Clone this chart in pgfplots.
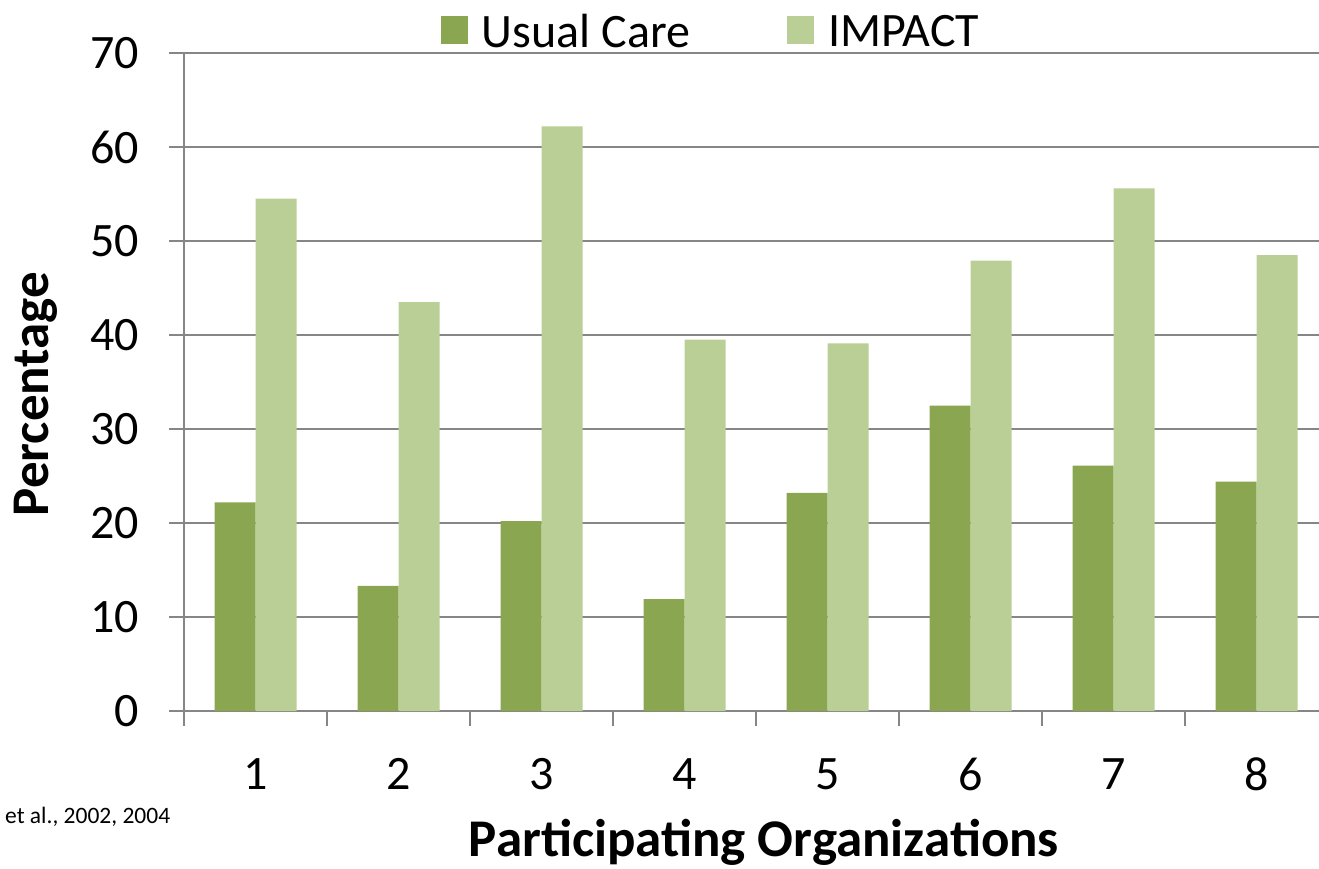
\documentclass[border=0pt]{standalone}
\usepackage{fontspec}
\setmainfont{Carlito}
\usepackage{pgfplots}
\pgfplotsset{compat=1.18}
\definecolor{uc}{RGB}{138,166,80}
\definecolor{im}{RGB}{186,207,149}
\definecolor{gridc}{RGB}{134,134,134}

\pgfplotstableread{
org usual impact
1 22.2 54.5
2 13.3 43.5
3 20.2 62.2
4 11.9 39.5
5 23.2 39.1
6 32.5 47.9
7 26.1 55.6
8 24.4 48.5
}\datatable

\begin{document}
\begin{tikzpicture}[x=1pt,y=1pt]
\useasboundingbox (0,0) rectangle (1319,868);
\begin{axis}[
  at={(184pt,157pt)}, anchor=south west,
  scale only axis, width=1135pt, height=658pt,
  xmin=0.5, xmax=8.437, ymin=0, ymax=70,
  ybar=0pt, bar width=41pt,
  axis x line*=bottom, axis y line*=left,
  axis line style={draw=gridc, line width=1.5pt, -},
  /pgf/number format/assume math mode=true,
  ytick={0,10,...,70},
  ymajorgrids,
  major grid style={draw=gridc, line width=1.5pt},
  tick align=outside,
  major tick length=15pt,
  minor tick length=15pt,
  ytick style={draw=gridc, line width=1.5pt},
  xtick={1,...,8},
  minor xtick={0.5,1.5,...,7.5},
  major x tick style={draw=none},
  minor x tick style={draw=gridc, line width=1.5pt},
  yticklabel style={font=\fontsize{48}{56}\selectfont, inner sep=0pt, anchor=east, xshift=-30pt},
  xticklabel style={font=\fontsize{48}{56}\selectfont, inner sep=0pt, anchor=north, yshift=-32pt},
  legend style={at={(0.2264,1.0593)}, anchor=north west, draw=none, fill=none,
    inner sep=0pt, outer sep=0pt, font=\fontsize{48}{56}\selectfont,
    legend columns=2,
    /tikz/every odd column/.append style={column sep=14pt},
    /tikz/every even column/.append style={column sep=97pt},
    nodes={inner sep=0pt}},
  legend image code/.code={\fill[#1] (0pt,-13pt) rectangle (27pt,15pt);},
  clip=false,
]
\addplot[fill=uc, draw=none] table[x=org, y=usual] {\datatable};
\addplot[fill=im, draw=none] table[x=org, y=impact] {\datatable};
\legend{Usual Care, IMPACT}
\end{axis}
\node[rotate=90, anchor=base, font=\bfseries\fontsize{53}{62}\selectfont] at (48,474) {Percentage};
\node[anchor=base, font=\bfseries\fontsize{53}{62}\selectfont] at (764,11.5) {Participating Organizations};
\node[anchor=base west, inner sep=0pt, font=\fontsize{23.5}{28}\selectfont] at (5,45) {et al., 2002, 2004};
\end{tikzpicture}
\end{document}
